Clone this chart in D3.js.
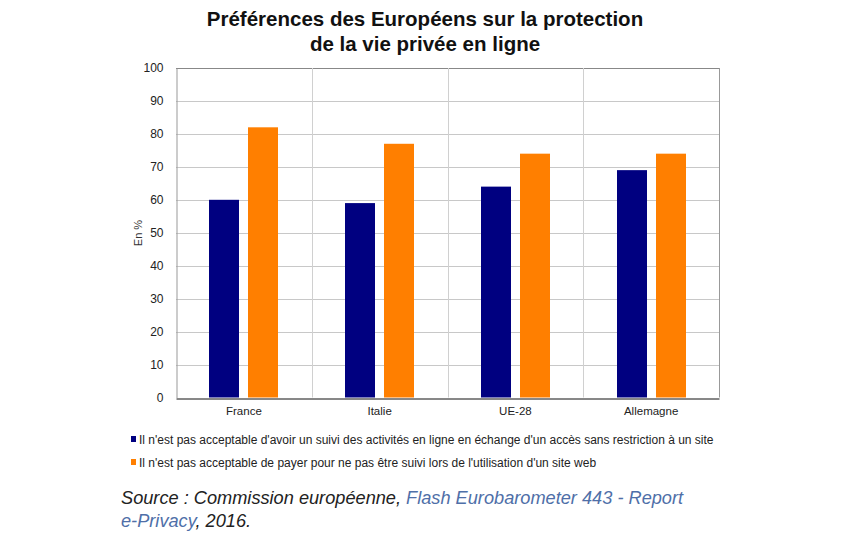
<!DOCTYPE html>
<html><head><meta charset="utf-8">
<script src="https://cdn.jsdelivr.net/npm/d3@7"></script>
<style>body{margin:0;background:#fff}svg{display:block;font-family:"Liberation Sans",Arial,sans-serif}</style>
</head><body>
<script>
const categories = ["France", "Italie", "UE-28", "Allemagne"];
const seriesNames = [
  "Il n'est pas acceptable d'avoir un suivi des activités en ligne en échange d'un accès sans restriction à un site",
  "Il n'est pas acceptable de payer pour ne pas être suivi lors de l'utilisation d'un site web"
];
const suiviValues = [60, 59, 64, 69];
const payerValues = [82, 77, 74, 74];
const yTicks = [0, 10, 20, 30, 40, 50, 60, 70, 80, 90, 100];
const colors = ["#000080", "#FF7F00"];

const W = 867, H = 542;
const svg = d3.select("body").append("svg").attr("width", W).attr("height", H);
const m = {l: 176, r: 719, t: 68, b: 397.5};

const x = d3.scaleBand().domain(categories).range([m.l, m.r]).padding(0);
const y = d3.scaleLinear().domain([0, 100]).range([m.b, m.t]);
const sub = d3.scaleBand().domain([0, 1]).range([0, 69]).paddingInner(0.23);

// title
svg.append("text").attr("x", 425).attr("y", 26).attr("text-anchor", "middle")
  .attr("font-weight", "bold").attr("font-size", 20.5).attr("fill", "#111")
  .text("Préférences des Européens sur la protection");
svg.append("text").attr("x", 425).attr("y", 51).attr("text-anchor", "middle")
  .attr("font-weight", "bold").attr("font-size", 20.5).attr("fill", "#111")
  .text("de la vie privée en ligne");

// gridlines
svg.append("g").selectAll("line").data(yTicks.filter(d => d > 0)).join("line")
  .attr("x1", m.l).attr("x2", m.r).attr("y1", d => Math.round(y(d)) + 0.5).attr("y2", d => Math.round(y(d)) + 0.5)
  .attr("stroke", d => d === 100 ? "#888" : "#c8c8c8").attr("stroke-width", 1);
// category separators
svg.append("g").selectAll("line").data(categories.slice(1)).join("line")
  .attr("x1", d => Math.round(x(d)) + 0.5).attr("x2", d => Math.round(x(d)) + 0.5)
  .attr("y1", m.t).attr("y2", m.b).attr("stroke", "#d0d0d0");
// right border
svg.append("line").attr("x1", m.r + 0.5).attr("x2", m.r + 0.5).attr("y1", m.t).attr("y2", m.b).attr("stroke", "#999");

// bars
const series = [suiviValues, payerValues];
series.forEach((vals, si) => {
  svg.append("g").selectAll("rect").data(categories).join("rect")
    .attr("x", (c) => Math.round(x(c) + (x.bandwidth() - 69) / 2 + sub(si)))
    .attr("width", Math.round(sub.bandwidth()))
    .attr("y", (c, i) => y(vals[i]))
    .attr("height", (c, i) => y(0) - y(vals[i]))
    .attr("fill", colors[si]);
});

// y axis
const yAxis = d3.axisLeft(y).tickValues(yTicks).tickSize(0).tickPadding(13);
const ga = svg.append("g").attr("transform", `translate(${m.l + 0.5},0)`).call(yAxis);
ga.select(".domain").attr("stroke", "#999");
ga.selectAll("text").attr("font-size", 12).attr("fill", "#222").attr("font-family", "Liberation Sans, Arial, sans-serif");

// x axis
const xAxis = d3.axisBottom(x).tickSize(0).tickPadding(8);
const gx = svg.append("g").attr("transform", `translate(0,${Math.round(m.b) + 0.5})`).call(xAxis);
gx.select(".domain").attr("stroke", "#111");
gx.selectAll("text").attr("font-size", 11.5).attr("fill", "#222").attr("font-family", "Liberation Sans, Arial, sans-serif");

// y label
svg.append("text").attr("transform", "translate(142,233) rotate(-90)").attr("text-anchor", "middle")
  .attr("font-size", 11).attr("fill", "#333").text("En %");

// legend
const lg = svg.append("g");
seriesNames.forEach((n, i) => {
  const yy = 440 + i * 23;
  lg.append("rect").attr("x", 131).attr("y", yy - 4).attr("width", 5).attr("height", 6).attr("fill", colors[i]);
  lg.append("text").attr("x", 139).attr("y", yy + 3.5).attr("font-size", 12).attr("fill", "#222").text(n);
});

// source
const src = svg.append("text").attr("x", 121).attr("y", 504).attr("font-size", 18.2).attr("font-style", "italic").attr("fill", "#222");
src.append("tspan").text("Source : Commission européenne, ");
src.append("tspan").attr("fill", "#4f6fa8").text("Flash Eurobarometer 443 - Report");
const src2 = svg.append("text").attr("x", 121).attr("y", 527).attr("font-size", 18.2).attr("font-style", "italic").attr("fill", "#222");
src2.append("tspan").attr("fill", "#4f6fa8").text("e-Privacy");
src2.append("tspan").text(", 2016.");
</script>
</body></html>
